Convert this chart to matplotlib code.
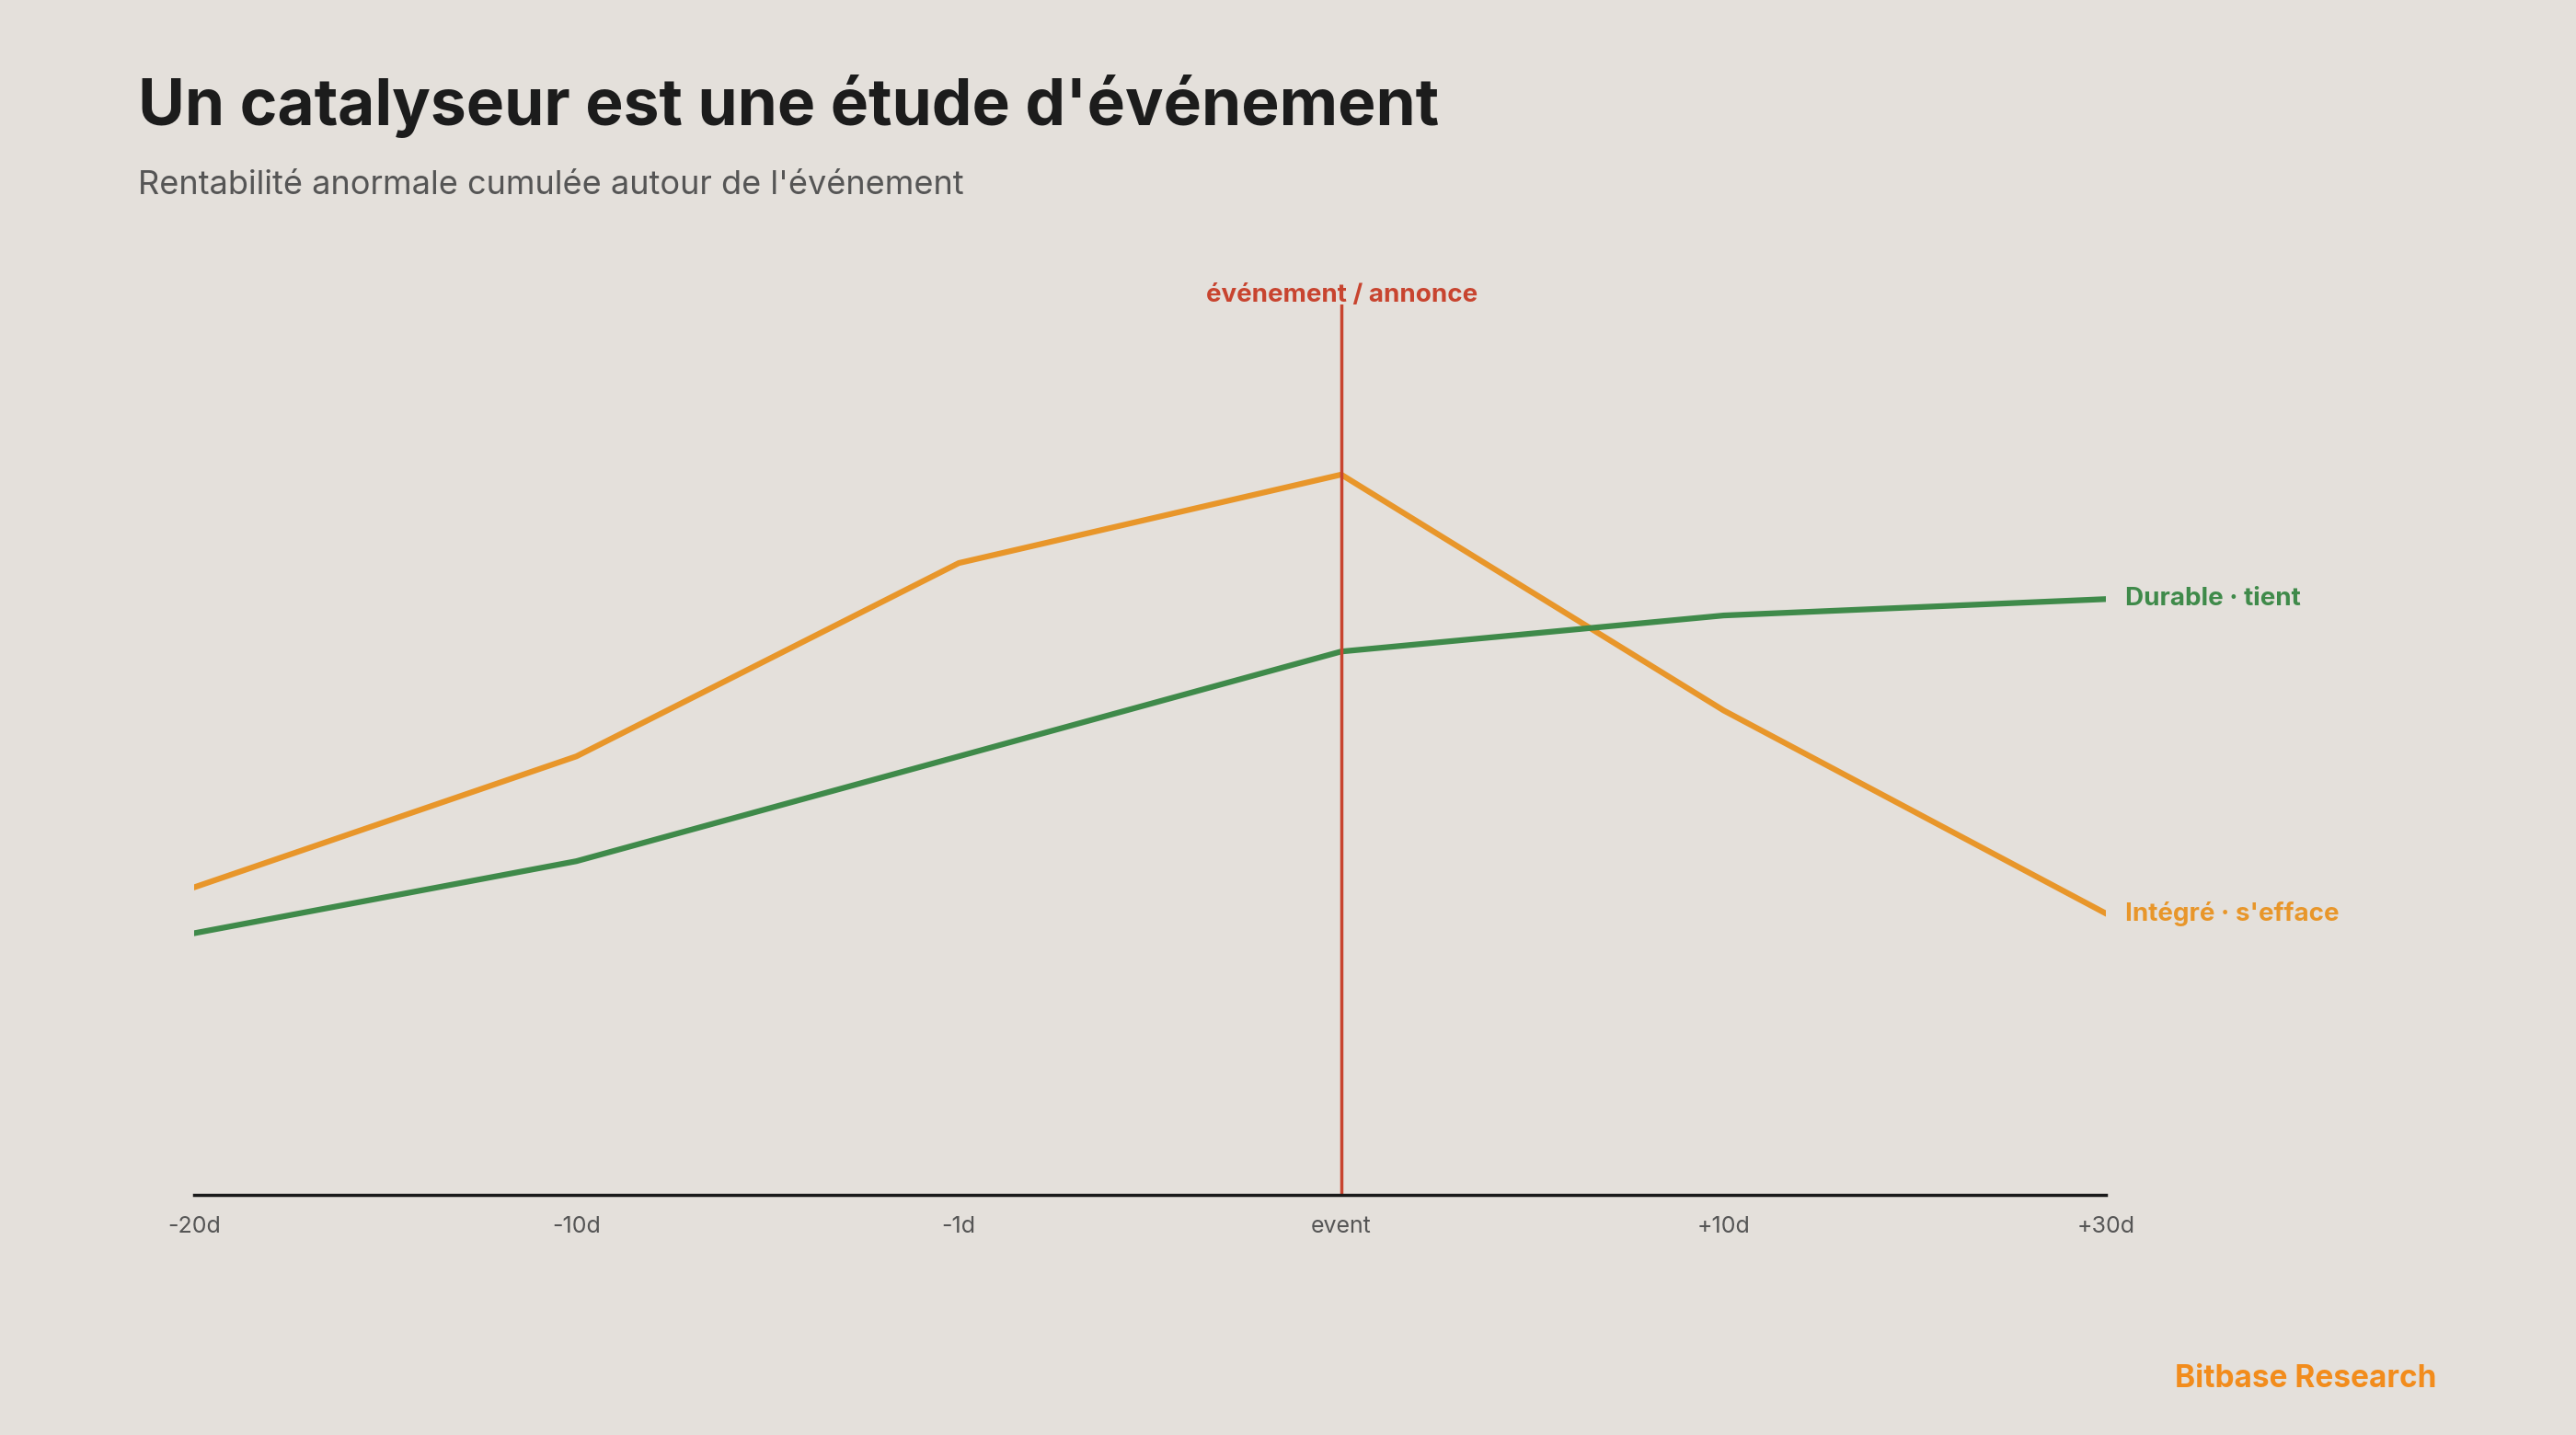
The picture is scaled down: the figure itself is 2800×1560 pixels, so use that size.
import matplotlib
matplotlib.use("Agg")
import matplotlib.pyplot as plt

categories = ["-20d", "-10d", "-1d", "event", "+10d", "+30d"]
integre = [4.7, 6.7, 9.65, 11.0, 7.4, 4.3]
durable = [4.0, 5.1, 6.7, 8.3, 8.85, 9.1]

BG = "#e4e0db"
ORANGE = "#e8962a"
GREEN = "#3f8a4a"
RED = "#c8442f"
plt.rcParams['font.family'] = ['Inter', 'DejaVu Sans']

fig = plt.figure(figsize=(28, 15.6), dpi=100, facecolor=BG)
ax = fig.add_axes([0.0753, 0.167, 0.8176 - 0.0753, 0.788 - 0.167], facecolor=BG)
x = list(range(len(categories)))
ax.plot(x, integre, color=ORANGE, lw=4.5)
ax.plot(x, durable, color=GREEN, lw=4.5)
ax.axvline(3, color=RED, lw=2.5)
ax.set_xlim(0, 5)
ax.set_ylim(0, 13.6)
for s in ["top", "right", "left"]:
    ax.spines[s].set_visible(False)
ax.spines["bottom"].set_linewidth(2.5)
ax.spines["bottom"].set_color("#1a1a1a")
ax.set_yticks([])
ax.set_xticks(x)
ax.set_xticklabels(categories, fontsize=18, color="#555555")
ax.tick_params(axis="x", length=0, pad=16)
ax.annotate("Durable · tient", (5, durable[-1]), xytext=(15, 0), textcoords="offset points",
            va="center", fontsize=20, fontweight="bold", color=GREEN, annotation_clip=False)
ax.annotate("Intégré · s'efface", (5, integre[-1]), xytext=(15, 0), textcoords="offset points",
            va="center", fontsize=20, fontweight="bold", color=ORANGE, annotation_clip=False)
fig.text(0.521, 0.794, "événement / annonce", ha="center", va="center", fontsize=20,
         fontweight="bold", color=RED)
fig.text(0.0536, 0.926, "Un catalyseur est une étude d'événement", fontsize=50,
         fontweight="bold", color="#1c1c1c", va="center")
fig.text(0.0536, 0.871, "Rentabilité anormale cumulée autour de l'événement", fontsize=26,
         color="#555555", va="center")
fig.text(0.946, 0.039, "Bitbase Research", fontsize=24, fontweight="bold", color="#f28c1c",
         ha="right", va="center")
fig.savefig("out.png", dpi=100, facecolor=BG)
